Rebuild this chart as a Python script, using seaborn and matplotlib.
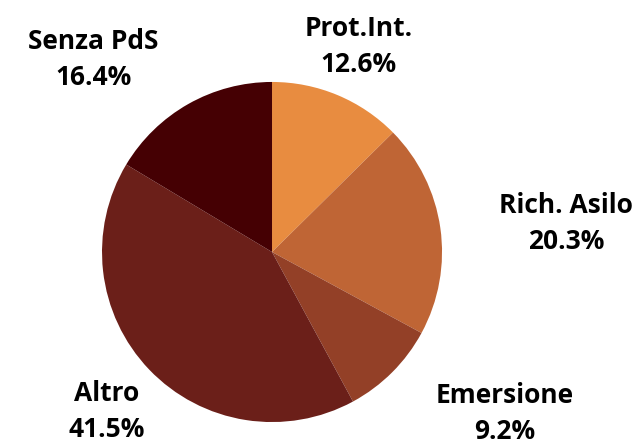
import matplotlib
matplotlib.use("Agg")
import matplotlib.pyplot as plt
import seaborn as sns

# data (percentages), clockwise from 12 o'clock
categories = ["Prot.Int.", "Rich. Asilo", "Emersione", "Altro", "Senza PdS"]
values = [12.6, 20.3, 9.2, 41.5, 16.4]
colors = ["#E88C40", "#BF6535", "#934027", "#6B1F19", "#450003"]

# label positions (in pie-radius units, relative to centre)
label_pos = [(0.51, 1.21), (1.73, 0.17), (1.37, -0.95), (-0.97, -0.94), (-1.05, 1.13)]

sns.set_theme(style="white")
plt.rcParams["font.family"] = ["Open Sans", "DejaVu Sans"]

fig = plt.figure(figsize=(6.35, 4.45), dpi=100)
ax = fig.add_axes([0, 0, 1, 1])

ax.pie(values, colors=colors, startangle=90, counterclock=False,
       radius=1, wedgeprops=dict(linewidth=0))

for cat, val, (x, y) in zip(categories, values, label_pos):
    ax.text(x, y, f"{cat}\n{val:.1f}%", ha="center", va="center",
            fontsize=19, fontweight="bold", color="#000000", linespacing=1.42)

ax.set_xlim(-1.6, 2.135)
ax.set_ylim(-1.135, 1.482)
ax.set_aspect("auto")
ax.axis("off")

fig.savefig("out.png", dpi=100)
